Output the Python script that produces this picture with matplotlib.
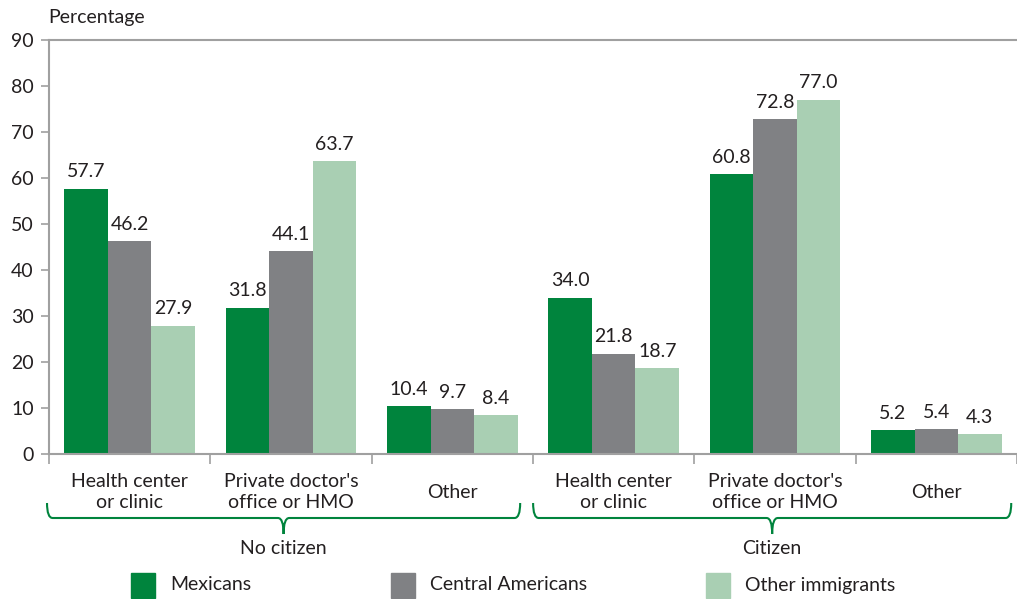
import numpy as np
import matplotlib.pyplot as plt
from matplotlib.path import Path
from matplotlib.patches import PathPatch, Rectangle
from matplotlib.transforms import blended_transform_factory

plt.rcParams['font.family'] = ['Lato', 'DejaVu Sans']

categories = ["Health center\nor clinic", "Private doctor's\noffice or HMO", "Other",
              "Health center\nor clinic", "Private doctor's\noffice or HMO", "Other"]
groups = ["No citizen", "Citizen"]
series = ["Mexicans", "Central Americans", "Other immigrants"]
mexicans = [57.7, 31.8, 10.4, 34.0, 60.8, 5.2]
central = [46.2, 44.1, 9.7, 21.8, 72.8, 5.4]
other_imm = [27.9, 63.7, 8.4, 18.7, 77.0, 4.3]
colors = ["#00843d", "#808184", "#a9cfb3"]

W, H = 1017, 599
fs = 14
gw = 162.3  # pixels per category slot
fig = plt.figure(figsize=(W / 100, H / 100), dpi=100)
ax = fig.add_axes([49 / W, 1 - 454 / H, (W - 49) / W, 414 / H])

x = np.arange(len(categories)) + 0.5
bw = 0.27
txtc = "#231f20"
for i, (vals, c) in enumerate(zip([mexicans, central, other_imm], colors)):
    bars = ax.bar(x + (i - 1) * bw, vals, bw, color=c, label=series[i])
    ax.bar_label(bars, fmt='%.1f', padding=6, fontsize=fs, color=txtc)

ax.set_ylim(0, 90)
ax.set_yticks(range(0, 91, 10))
ax.set_xlim(0, (W - 49) / gw)
ax.set_xticks(range(0, 7))
ax.set_xticklabels([])
ax.tick_params(axis='x', which='major', length=7, color="#a0a0a0", width=1.2)
ax.tick_params(axis='y', length=6, color="#a0a0a0", width=1.2, labelsize=fs,
               labelcolor=txtc, pad=5)
for s in ['left', 'bottom', 'top']:
    ax.spines[s].set_color("#a0a0a0")
    ax.spines[s].set_linewidth(1.5)
ax.spines['right'].set_visible(False)

fig.text(48 / W, 1 - 17 / H, "Percentage", fontsize=fs, color=txtc, va='center', ha='left')

tr = blended_transform_factory(ax.transData, ax.transAxes)
def yax(py):
    return (454 - py) / 414

# category labels
for xi, lab in zip(x, categories):
    ax.text(xi, yax(492), lab, transform=tr, ha='center', va='center',
            fontsize=fs, color=txtc, linespacing=1.25)

# group braces
spans = [(-2 / gw, 474 / gw), (487 / gw, (W - 49) / gw)]
for (a, b), name in zip(spans, groups):
    m = (a + b) / 2
    r = 0.035
    y0, y1, y2 = yax(503), yax(518), yax(534)
    verts = [(a, y0), (a, y1), (a + r, y1),
             (m - r, y1), (m, y1), (m, y2),
             (m, y1), (m + r, y1),
             (b - r, y1), (b, y1), (b, y0)]
    codes = [Path.MOVETO, Path.CURVE3, Path.CURVE3,
             Path.LINETO, Path.CURVE3, Path.CURVE3,
             Path.CURVE3, Path.CURVE3,
             Path.LINETO, Path.CURVE3, Path.CURVE3]
    ax.add_patch(PathPatch(Path(verts, codes), transform=tr, fill=False,
                           edgecolor=colors[0], lw=1.5, clip_on=False))
    ax.text(m, yax(548), name, transform=tr, ha='center', va='center',
            fontsize=fs, color=txtc)

# legend
leg_x = [131, 391, 706]
for px, name, c in zip(leg_x, series, colors):
    fig.patches.append(Rectangle((px / W, 1 - 598 / H), 24 / W, 25 / H,
                                 transform=fig.transFigure, color=c))
    fig.text((px + 39) / W, 1 - 585 / H, name, fontsize=fs, color=txtc,
             va='center', ha='left')

fig.savefig("out.png", dpi=100)
